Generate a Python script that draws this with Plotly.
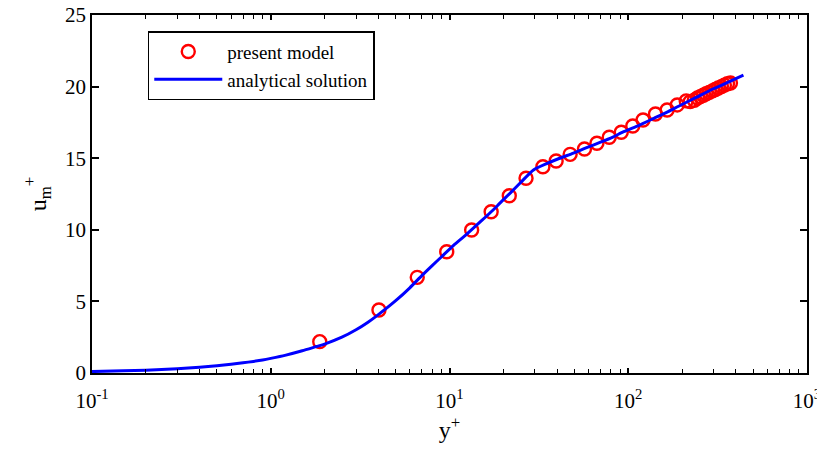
import plotly.graph_objects as go

# Model predictions (y+, u_m+)
model_y = [1.88, 4.03, 6.6, 9.65, 13.3, 17.1, 21.6, 26.8, 33.3, 39.5, 47.3, 56.9,
           66.8, 78.3, 91.4, 106, 121, 142, 165, 188,
           211, 222, 234, 244, 253, 263, 273, 284, 296, 307, 319, 332, 345, 359, 373]
model_u = [2.19, 4.4, 6.68, 8.47, 9.99, 11.26, 12.38, 13.6, 14.4, 14.8, 15.27, 15.64,
           16.04, 16.46, 16.81, 17.25, 17.67, 18.09, 18.37, 18.72,
           19.0, 18.95, 19.05, 19.2, 19.3, 19.4, 19.5, 19.6, 19.7, 19.8, 19.9, 20.0, 20.1, 20.2, 20.25]

# Analytical profile (y+, u+)
exact_y = [0.1, 0.15, 0.2, 0.3, 0.4, 0.5, 0.6, 0.7, 0.8, 0.9, 1.0, 1.2, 1.5, 1.8,
           2.0, 2.5, 3.0, 3.5, 4.0, 5.0, 6.0, 7.0, 8.0, 9.0, 10.5, 12.5, 15.0,
           17.6, 19.2, 22.0, 25.0, 29.5, 35.0, 41.0, 49.4, 58.0, 70.0, 82.0, 94.2,
           115, 140, 165, 196, 240, 300, 360, 441]
exact_u = [0.1, 0.15, 0.2, 0.3, 0.41, 0.51, 0.61, 0.71, 0.81, 0.91, 1.02, 1.23, 1.55, 1.85,
           2.02, 2.5, 3.02, 3.55, 4.08, 5.05, 5.95, 6.8, 7.5, 8.1, 8.9, 9.7, 10.6,
           11.4, 11.88, 12.6, 13.3, 14.18, 14.62, 14.98, 15.36, 15.72, 16.12, 16.48, 16.85,
           17.3, 17.8, 18.22, 18.7, 19.25, 19.85, 20.3, 20.8]

x_tickvals = [0.1, 1, 10, 100, 1000]
x_ticktext = ["10<sup>-1</sup>", "10<sup>0</sup>", "10<sup>1</sup>", "10<sup>2</sup>", "10<sup>3</sup>"]
y_tickvals = [0, 5, 10, 15, 20, 25]

font_family = "Liberation Serif, Times New Roman, serif"

fig = go.Figure()
fig.add_trace(go.Scatter(
    x=model_y, y=model_u, mode="markers", name="present model",
    marker=dict(symbol="circle-open", size=13, color="#ff0000",
                line=dict(width=2.4, color="#ff0000")),
))
fig.add_trace(go.Scatter(
    x=exact_y, y=exact_u, mode="lines", name="analytical solution",
    line=dict(color="#0000ff", width=3, shape="spline", smoothing=0.6),
))

fig.update_layout(
    width=817, height=452,
    margin=dict(l=92, r=10, t=15, b=79),
    paper_bgcolor="white", plot_bgcolor="white",
    font=dict(family=font_family, size=21, color="black"),
    showlegend=True,
    legend=dict(
        x=0.078, y=0.955, xanchor="left", yanchor="top",
        bgcolor="white", bordercolor="black", borderwidth=1.5,
        font=dict(family=font_family, size=19, color="black"),
        tracegroupgap=0, itemwidth=68,
    ),
    xaxis=dict(
        type="log", range=[-1, 3.00001], automargin=False,
        tickmode="array", tickvals=x_tickvals, ticktext=x_ticktext,
        ticklabeloverflow="allow",
        ticks="inside", ticklen=5, tickwidth=1.5, tickcolor="black",
        minor=dict(ticks="inside", ticklen=4, tickwidth=1.2, tickcolor="black",
                   dtick="D1", showgrid=False),
        showline=True, linecolor="black", linewidth=1.8, mirror="ticks",
        showgrid=False, zeroline=False,
        ticklabelstandoff=8,
        title=dict(text="y<sup>+</sup>", font=dict(size=24), standoff=8),
        tickfont=dict(size=21),
    ),
    yaxis=dict(
        range=[0, 25], automargin=False,
        tickmode="array", tickvals=y_tickvals,
        ticks="inside", ticklen=7, tickwidth=1.5, tickcolor="black",
        showline=True, linecolor="black", linewidth=1.8, mirror="ticks",
        showgrid=False, zeroline=False,
        title=dict(text="u<sub>m</sub><sup>+</sup>", font=dict(size=24), standoff=12),
        tickfont=dict(size=21),
    ),
)

fig.write_html("out.html")
